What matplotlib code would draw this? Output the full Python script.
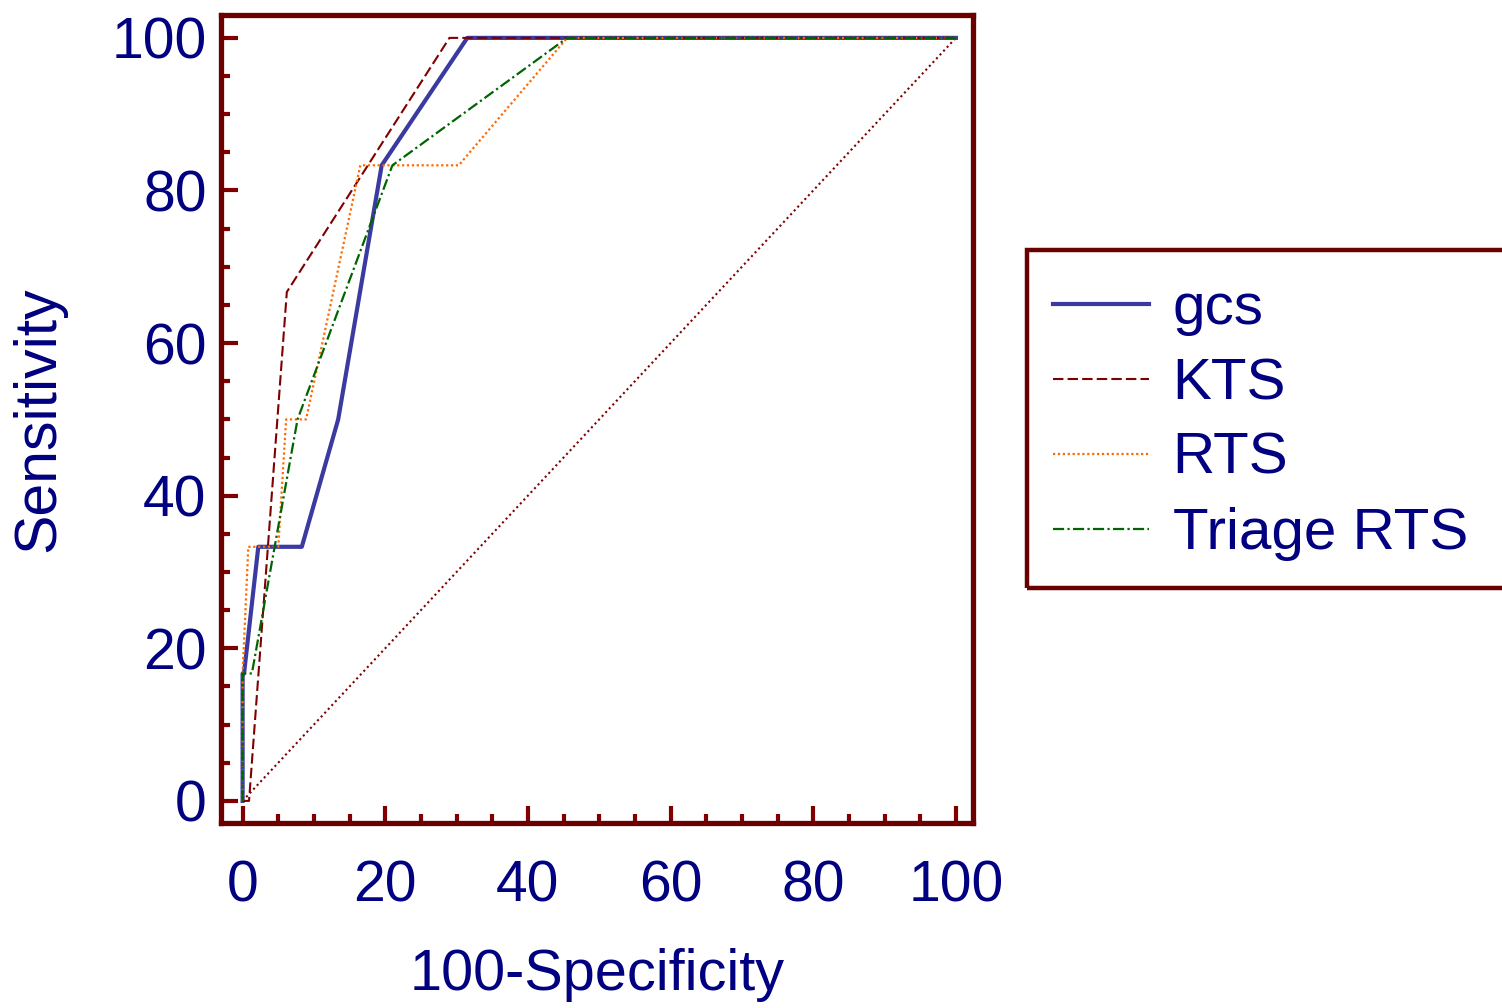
import matplotlib
matplotlib.use("Agg")
import matplotlib.pyplot as plt
from matplotlib.patches import Rectangle
from matplotlib.ticker import MultipleLocator

# ROC curves (100-Specificity, Sensitivity)
gcs_x = [0, 0, 0.2, 2.2, 8.3, 13.4, 19.5, 31.5, 100]
gcs_y = [0, 16.7, 16.7, 33.3, 33.3, 50, 83.3, 100, 100]

kts_x = [0, 0.9, 6.2, 29.0, 100]
kts_y = [0, 0, 66.7, 100, 100]

rts_x = [0, 0, 0.8, 5.0, 6.1, 8.9, 16.5, 30.3, 45.5, 100]
rts_y = [0, 16.7, 33.3, 33.3, 50, 50, 83.3, 83.3, 100, 100]

triage_x = [0, 0, 1.3, 7.7, 21.0, 45.5, 100]
triage_y = [0, 16.7, 16.7, 50, 83.3, 100, 100]

ref_x = [0, 100]
ref_y = [0, 100]

labels = ['gcs', 'KTS', 'RTS', 'Triage RTS']

navy = '#000080'
frame = '#6b0000'
tickc = '#800000'

plt.rcParams['font.family'] = ['Liberation Sans', 'DejaVu Sans']

fig = plt.figure(figsize=(15.02, 10.08), dpi=100)
ax = fig.add_axes([220.5/1502, 1 - 823/1008, (973 - 220.5)/1502, (823 - 15)/1008])

ax.plot(gcs_x, gcs_y, color='#3a3aa0', lw=3.0, label=labels[0], zorder=3)
ax.plot(kts_x, kts_y, color='#800000', lw=1.5, ls=(0, (5, 2)), label=labels[1], zorder=4)
ax.plot(rts_x, rts_y, color='#ff6a00', lw=1.6, ls=(0, (1, 1.2)), label=labels[2], zorder=4)
ax.plot(triage_x, triage_y, color='#006400', lw=1.6, ls=(0, (5, 1.5, 1, 1.5)), label=labels[3], zorder=4)
ax.plot(ref_x, ref_y, color='#800000', lw=1.5, ls=(0, (1, 1.5)), zorder=2)

ax.set_xlim(-3.1, 102.4)
ax.set_ylim(-2.9, 103.0)

ax.xaxis.set_major_locator(MultipleLocator(20))
ax.xaxis.set_minor_locator(MultipleLocator(5))
ax.yaxis.set_major_locator(MultipleLocator(20))
ax.yaxis.set_minor_locator(MultipleLocator(5))

for s in ax.spines.values():
    s.set_color(frame)
    s.set_linewidth(3.8)

ax.tick_params(which='major', direction='in', length=12, width=3, color=tickc,
               labelsize=41, labelcolor=navy)
ax.tick_params(which='minor', direction='in', length=6.5, width=3, color=tickc)
ax.tick_params(axis='x', which='major', pad=26)
ax.tick_params(axis='y', which='major', pad=10)

ax.set_xlabel('100-Specificity', fontsize=41.5, color=navy)
ax.set_ylabel('Sensitivity', fontsize=42.5, color=navy)
ax.xaxis.set_label_coords(0.5, -0.155)
ax.yaxis.set_label_coords(-0.205, 0.5)

# legend box, cut off by the right edge like the original
fig.patches.append(Rectangle((1027/1502, 1 - 588/1008), 500/1502, (588 - 250)/1008,
                             transform=fig.transFigure, fill=False,
                             edgecolor=frame, lw=3.2, clip_on=False))
h, l = ax.get_legend_handles_labels()
fig.legend(h, l, loc='upper left', bbox_to_anchor=(1053/1502, 1 - 282/1008),
           frameon=False, fontsize=42, labelcolor=navy, handlelength=1.65,
           handletextpad=0.4, labelspacing=0.36, borderpad=0, borderaxespad=0)

fig.savefig('out.png', dpi=100)
